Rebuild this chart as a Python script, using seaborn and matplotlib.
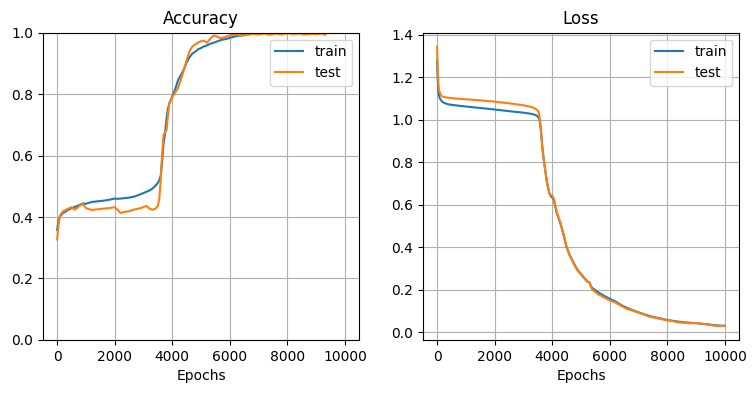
import matplotlib
matplotlib.use('Agg')
import matplotlib.pyplot as plt
import seaborn as sns
import pandas as pd

# Accuracy curves
acc_epochs = [0, 50, 100, 200, 300, 400, 500, 600, 700, 800, 900, 1000,
              1200, 1400, 1600, 1800, 2000, 2100, 2200, 2300, 2500, 2700, 2900,
              3100, 3200, 3300, 3400, 3500, 3550, 3600, 3650, 3700, 3750, 3800, 3850, 3900,
              4000, 4100, 4200, 4300, 4400, 4500, 4600, 4700, 4800, 4900, 5000,
              5100, 5200, 5300, 5400, 5500, 5600, 5700, 5800, 5900, 6000,
              6200, 6400, 6600, 6800, 7000, 7200, 7400, 7600, 7800, 8000,
              8200, 8400, 8600, 8800, 9000, 9200, 9300, 9400, 9600, 9800, 10000]
train_acc = [0.358, 0.390, 0.402, 0.413, 0.418, 0.424, 0.429, 0.432, 0.436, 0.440, 0.444, 0.443,
             0.449, 0.451, 0.453, 0.456, 0.460, 0.459, 0.460, 0.461, 0.463, 0.467, 0.474,
             0.482, 0.486, 0.492, 0.500, 0.511, 0.520, 0.535, 0.585, 0.640, 0.672, 0.720, 0.752, 0.770,
             0.793, 0.815, 0.845, 0.862, 0.880, 0.903, 0.920, 0.932, 0.938, 0.946, 0.950,
             0.955, 0.958, 0.963, 0.966, 0.969, 0.973, 0.976, 0.978, 0.980, 0.983,
             0.988, 0.991, 0.994, 0.996, 0.998, 1.0, 1.0, 1.0, 1.0, 1.0,
             1.0, 1.0, 1.0, 1.0, 1.0, 1.0, 1.0, 1.0, 1.0, 1.0, 1.0]
test_acc = [0.327, 0.375, 0.405, 0.418, 0.423, 0.428, 0.432, 0.424, 0.430, 0.438, 0.442, 0.429,
            0.423, 0.425, 0.427, 0.429, 0.432, 0.424, 0.413, 0.416, 0.419, 0.425, 0.429,
            0.436, 0.428, 0.424, 0.426, 0.436, 0.460, 0.520, 0.610, 0.668, 0.676, 0.682, 0.730, 0.770,
            0.790, 0.805, 0.820, 0.848, 0.878, 0.910, 0.940, 0.955, 0.962, 0.968, 0.972,
            0.974, 0.967, 0.978, 0.988, 0.990, 0.985, 0.982, 0.985, 0.988, 0.991,
            0.994, 0.990, 0.993, 0.996, 0.994, 0.997, 0.993, 0.997, 0.994, 0.998,
            0.995, 0.997, 0.994, 0.996, 0.995, 0.997, 0.993, 1.0, 1.0, 1.0, 1.0]

# Loss curves
loss_epochs = [0, 20, 40, 60, 100, 150, 200, 300, 400, 600, 800, 1000, 1500, 2000, 2500, 3000,
               3300, 3450, 3500, 3550, 3600, 3650, 3700, 3750, 3800, 3850, 3900, 3950, 4000,
               4050, 4100, 4150, 4200, 4300, 4400, 4500, 4600, 4700, 4800, 4900, 5000,
               5100, 5200, 5300, 5350, 5400, 5500, 5600, 5700, 5800, 5900, 6000,
               6200, 6400, 6600, 6800, 7000, 7200, 7400, 7600, 7800, 8000,
               8200, 8400, 8600, 8800, 9000, 9200, 9400, 9600, 9800, 10000]
train_loss = [1.280, 1.190, 1.145, 1.118, 1.100, 1.090, 1.083, 1.077, 1.073, 1.069, 1.066, 1.063,
              1.056, 1.049, 1.041, 1.034, 1.028, 1.021, 1.016, 1.005, 0.960, 0.880, 0.820, 0.770,
              0.720, 0.685, 0.655, 0.640, 0.635, 0.625, 0.595, 0.565, 0.545, 0.505, 0.455, 0.400,
              0.365, 0.340, 0.312, 0.290, 0.275, 0.258, 0.243, 0.232, 0.215, 0.208, 0.198, 0.188,
              0.180, 0.172, 0.165, 0.158, 0.145, 0.128, 0.115, 0.104, 0.094, 0.085, 0.076, 0.070,
              0.064, 0.058, 0.054, 0.050, 0.047, 0.045, 0.043, 0.040, 0.038, 0.034, 0.032, 0.031]
test_loss = [1.345, 1.250, 1.180, 1.145, 1.125, 1.114, 1.109, 1.106, 1.104, 1.101, 1.099, 1.097,
             1.092, 1.086, 1.078, 1.069, 1.060, 1.050, 1.043, 1.025, 0.965, 0.875, 0.815, 0.768,
             0.718, 0.680, 0.655, 0.645, 0.645, 0.630, 0.600, 0.570, 0.550, 0.508, 0.458, 0.402,
             0.363, 0.336, 0.308, 0.286, 0.272, 0.255, 0.240, 0.236, 0.212, 0.200, 0.190, 0.178,
             0.172, 0.164, 0.157, 0.150, 0.140, 0.124, 0.110, 0.102, 0.092, 0.083, 0.073, 0.068,
             0.062, 0.056, 0.052, 0.047, 0.045, 0.043, 0.044, 0.041, 0.037, 0.032, 0.030, 0.030]

acc_df = pd.DataFrame({'epoch': acc_epochs, 'train': train_acc, 'test': test_acc})
loss_df = pd.DataFrame({'epoch': loss_epochs, 'train': train_loss, 'test': test_loss})

fig, (ax1, ax2) = plt.subplots(1, 2, figsize=(7.56, 3.93), dpi=100)

# Accuracy
sns.lineplot(data=acc_df, x='epoch', y='train', ax=ax1, color='tab:blue', label='train')
sns.lineplot(data=acc_df, x='epoch', y='test', ax=ax1, color='tab:orange', label='test')
ax1.set_ylim(0, 1)
ax1.set_title('Accuracy')
ax1.set_xlabel('Epochs')
ax1.set_ylabel('')
ax1.grid(True)
ax1.legend(loc='upper right')

# Loss
sns.lineplot(data=loss_df, x='epoch', y='train', ax=ax2, color='tab:blue', label='train')
sns.lineplot(data=loss_df, x='epoch', y='test', ax=ax2, color='tab:orange', label='test')
ax2.set_title('Loss')
ax2.set_xlabel('Epochs')
ax2.set_ylabel('')
ax2.grid(True)
ax2.legend(loc='upper right')

plt.subplots_adjust(left=0.0565, right=0.978, top=0.917, bottom=0.135, wspace=0.2)
plt.savefig('out.png')
